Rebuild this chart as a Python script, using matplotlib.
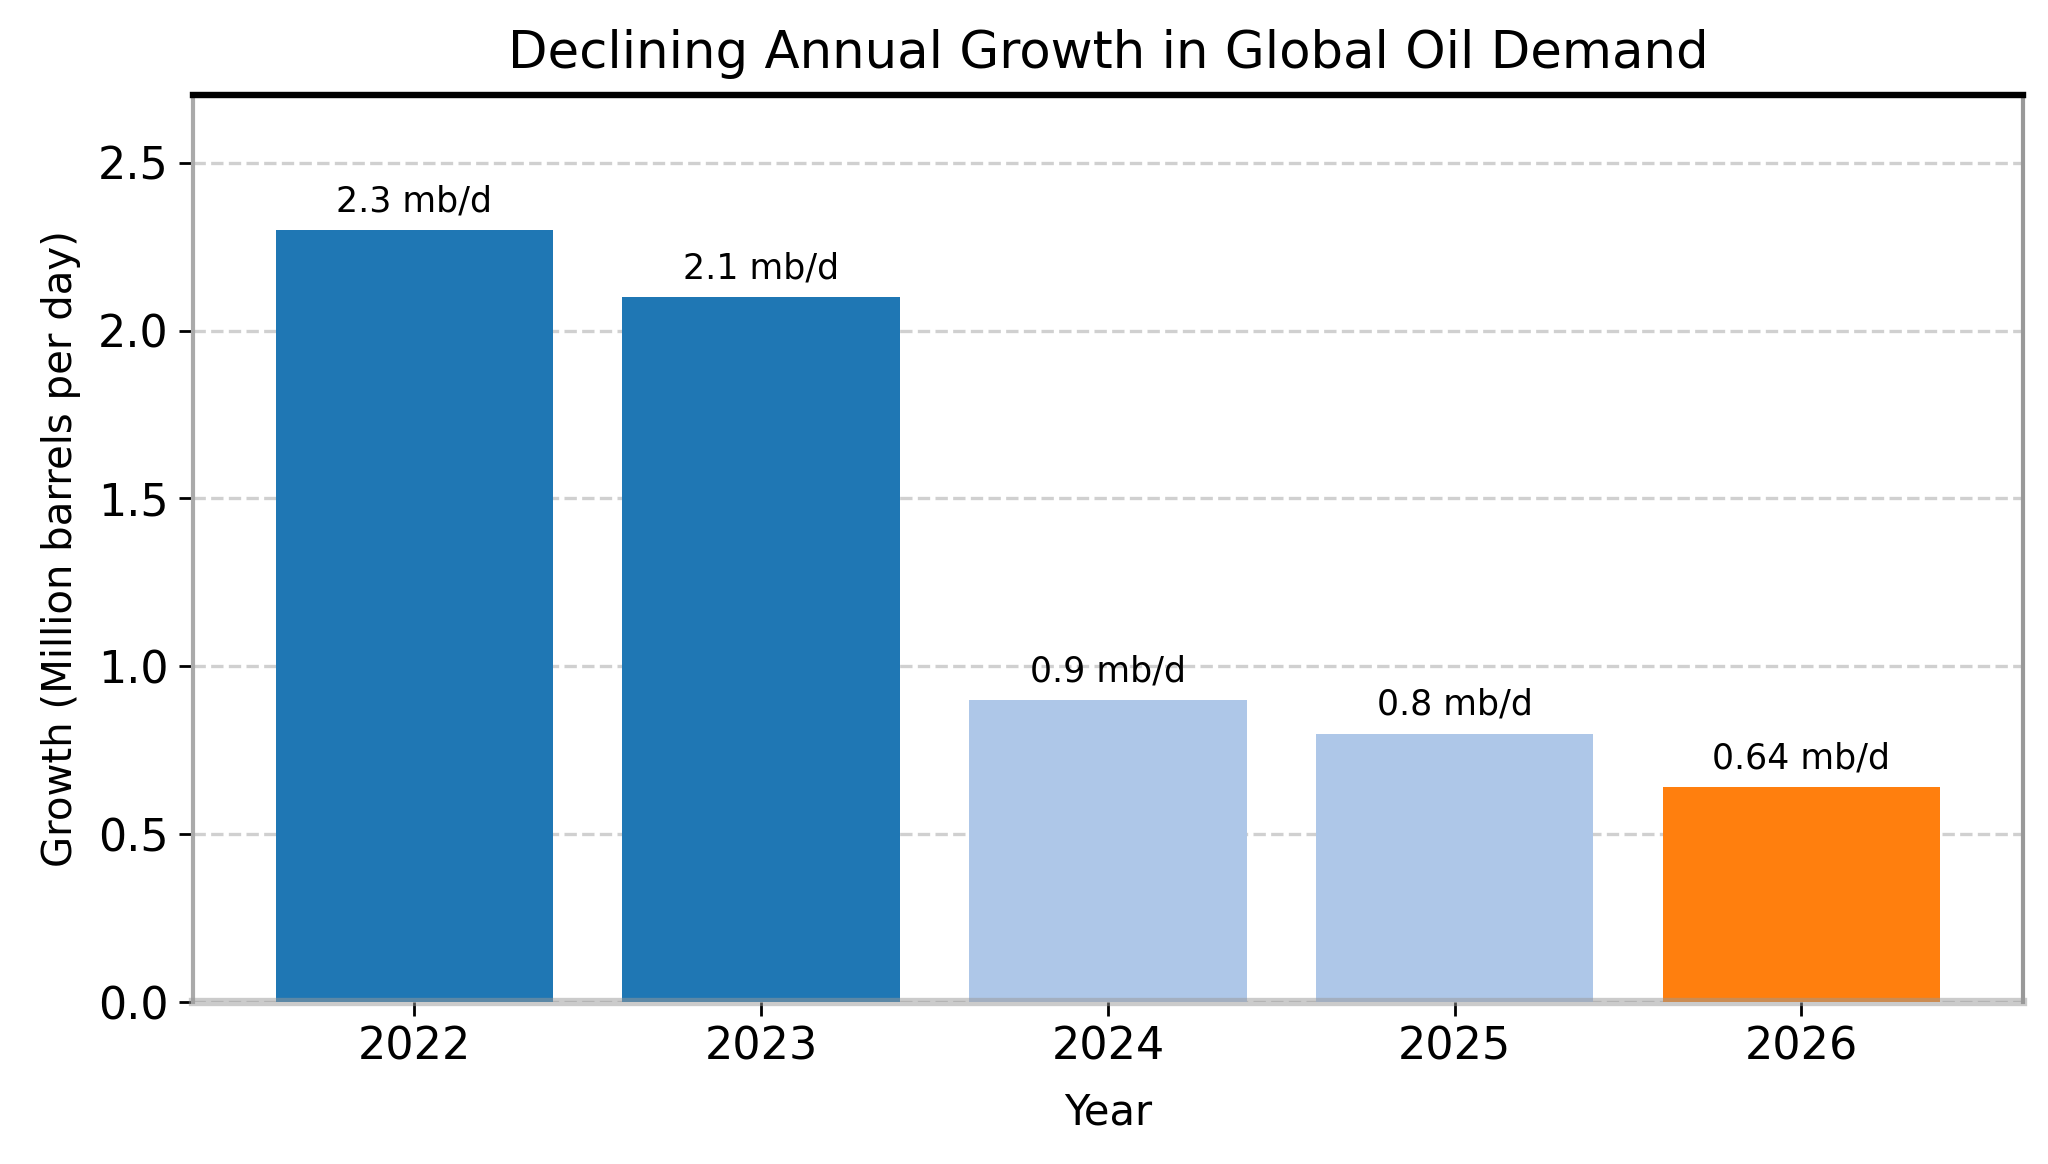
import matplotlib
matplotlib.use("Agg")
import matplotlib.pyplot as plt

years = ["2022", "2023", "2024", "2025", "2026"]
growth = [2.3, 2.1, 0.9, 0.8, 0.64]
value_labels = ["2.3 mb/d", "2.1 mb/d", "0.9 mb/d", "0.8 mb/d", "0.64 mb/d"]
bar_colors = ["#1f77b4", "#1f77b4", "#aec7e8", "#aec7e8", "#ff7f0e"]
yticks = [0.0, 0.5, 1.0, 1.5, 2.0, 2.5]

plt.rcParams['font.family'] = ['DejaVu Sans']

fig = plt.figure(figsize=(10.24, 5.82), dpi=200)
ax = fig.add_axes([0.094, 0.139, 0.894, 0.779])

x = list(range(len(years)))
ax.bar(x, growth, width=0.8, color=bar_colors, zorder=2)
for xi, v, lab in zip(x, growth, value_labels):
    ax.text(xi, v + 0.035, lab, ha='center', va='bottom', fontsize=12.5, zorder=3)

ax.set_ylim(0, 2.7)
ax.set_xticks(x)
ax.set_xticklabels(years, fontsize=16)
ax.set_yticks(yticks)
ax.set_yticklabels([f"{t:.1f}" for t in yticks], fontsize=16)
ax.yaxis.grid(True, linestyle='--', color='#d0d0d0', linewidth=1.2, zorder=0)
ax.set_axisbelow(True)

ax.set_title("Declining Annual Growth in Global Oil Demand", fontsize=18.5, pad=10)
ax.set_xlabel("Year", fontsize=15, labelpad=8)
ax.set_ylabel("Growth (Million barrels per day)", fontsize=14.5, labelpad=6)

ax.spines['top'].set_color('black')
ax.spines['top'].set_linewidth(2.3)
ax.spines['left'].set_color('#aaaaaa')
ax.spines['left'].set_linewidth(1.5)
ax.spines['right'].set_color('#999999')
ax.spines['right'].set_linewidth(1.5)
ax.spines['bottom'].set_color('#999999')
ax.spines['bottom'].set_alpha(0.5)
ax.spines['bottom'].set_linewidth(3.0)
ax.spines['bottom'].set_zorder(4)
ax.tick_params(axis='both', length=5, width=1.0, color='black')

fig.savefig("out.png", dpi=200)
